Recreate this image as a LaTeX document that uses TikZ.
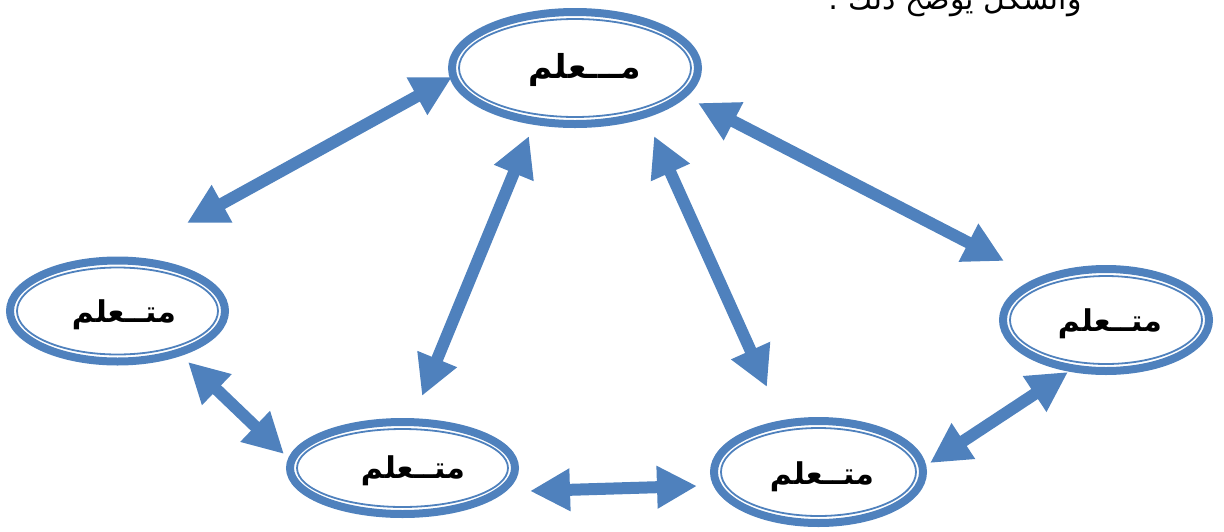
\documentclass[tikz,border=0pt]{standalone}
\usepackage{fontspec}
\usetikzlibrary{arrows.meta}
\TeXXeTstate=1
\newfontfamily\arabicfont[Script=Arabic]{DejaVu Sans}
\definecolor{ofblue}{HTML}{4F81BD}
\tikzset{
  twoway/.style={draw=ofblue, line width=12pt,
    {Triangle[length=40pt,width=40pt]}-{Triangle[length=40pt,width=40pt]}},
  label/.style={font=\arabicfont\bfseries\fontsize{30}{34}\selectfont, inner sep=0pt},
  biglabel/.style={label, font=\arabicfont\bfseries\fontsize{33}{37}\selectfont},
  outerring/.style={draw=ofblue, line width=8pt},
  innerring/.style={draw=ofblue, line width=1.8pt}
}
\newcommand{\ringpair}[3]{%
  \draw[outerring] #1 ellipse [x radius={(#2-4)*1pt}, y radius={(#3-4)*1pt}];
  \draw[innerring] #1 ellipse [x radius={(#2-11)*1pt}, y radius={(#3-11)*1pt}];
}
\begin{document}
\begin{tikzpicture}[x=1pt,y=-1pt]
\useasboundingbox (0,0) rectangle (1224,531);
\clip (0,0) rectangle (1224,531);

% clipped top line of text
\node[anchor=base east, inner sep=0pt, font=\arabicfont\fontsize{30}{34}\selectfont]
  (caption) at (1082,9) {\beginR والشكل يوضح ذلك :\endR};

% ellipse centres
\coordinate (cT)  at (575,68);
\coordinate (cL)  at (117.5,311);
\coordinate (cR)  at (1106,320);
\coordinate (cBL) at (402.5,468);
\coordinate (cBR) at (818.5,472);

\ringpair{(cT)}{127}{60}
\ringpair{(cL)}{111.5}{54.5}
\ringpair{(cR)}{107}{55}
\ringpair{(cBL)}{116.5}{50}
\ringpair{(cBR)}{108.5}{55}

% labels
\node[biglabel] (T)  at (585,70)  {\beginR مـــعلم\endR};
\node[label] (L)  at (124,315) {\beginR متــعلم\endR};
\node[label] (R)  at (1110,324) {\beginR متــعلم\endR};
\node[label] (BL) at (413,471) {\beginR متــعلم\endR};
\node[label] (BR) at (822,477) {\beginR متــعلم\endR};

% arrow ends
\coordinate (a1s) at (187,223);  \coordinate (a1e) at (452,77);
\coordinate (a2s) at (698,103);  \coordinate (a2e) at (1004,261);
\coordinate (a3s) at (529,136);  \coordinate (a3e) at (422,396);
\coordinate (a4s) at (654,136);  \coordinate (a4e) at (767,387);
\coordinate (a5s) at (188,362);  \coordinate (a5e) at (284,454);
\coordinate (a6s) at (530,491);  \coordinate (a6e) at (697,486);
\coordinate (a7s) at (1068,372); \coordinate (a7e) at (930,463);

\draw[twoway] (a1s) -- (a1e);
\draw[twoway] (a2s) -- (a2e);
\draw[twoway] (a3s) -- (a3e);
\draw[twoway] (a4s) -- (a4e);
\draw[twoway] (a5s) -- (a5e);
\draw[twoway] (a6s) -- (a6e);
\draw[twoway] (a7s) -- (a7e);
\end{tikzpicture}
\end{document}
